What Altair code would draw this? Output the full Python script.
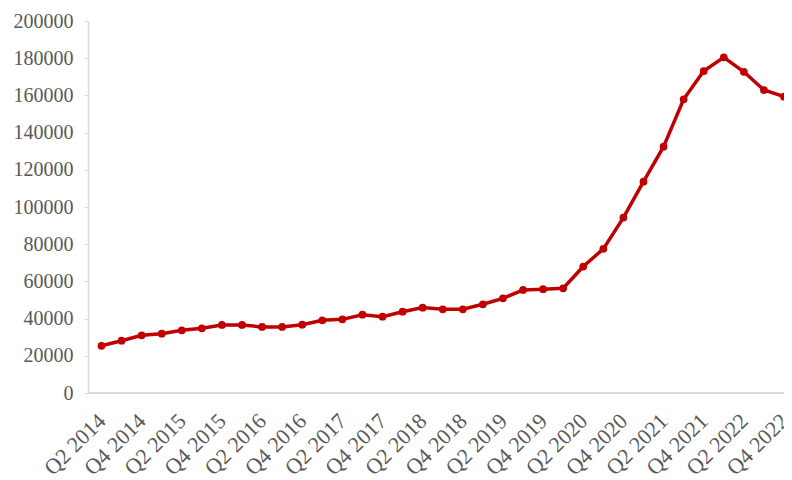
import altair as alt
import pandas as pd

quarters = [
    "Q2 2014", "Q3 2014", "Q4 2014",
    "Q1 2015", "Q2 2015", "Q3 2015", "Q4 2015",
    "Q1 2016", "Q2 2016", "Q3 2016", "Q4 2016",
    "Q1 2017", "Q2 2017", "Q3 2017", "Q4 2017",
    "Q1 2018", "Q2 2018", "Q3 2018", "Q4 2018",
    "Q1 2019", "Q2 2019", "Q3 2019", "Q4 2019",
    "Q1 2020", "Q2 2020", "Q3 2020", "Q4 2020",
    "Q1 2021", "Q2 2021", "Q3 2021", "Q4 2021",
    "Q1 2022", "Q2 2022", "Q3 2022", "Q4 2022",
]
values = [
    25400, 28100, 31000,
    31900, 33700, 34800, 36600,
    36600, 35500, 35500, 36700,
    39100, 39600, 42100, 41000,
    43700, 45900, 45000, 45000,
    47700, 50900, 55400, 55800,
    56300, 68000, 77500, 94300,
    113600, 132400, 157900, 173100,
    180500, 172700, 162900, 159300,
]
label_quarters = quarters[::2]
y_ticks = [0, 20000, 40000, 60000, 80000, 100000, 120000, 140000, 160000, 180000, 200000]

df = pd.DataFrame({"quarter": quarters, "value": values})

FONT = "Liberation Serif"
RED = "#C00000"
GRAY = "#595959"
LINE = "#d9d9d9"
W = 696
H = 372

x_enc = alt.X(
    "quarter:O",
    sort=quarters,
    scale=alt.Scale(type="point", range=[13.5, W], padding=0),
    axis=alt.Axis(
        values=label_quarters,
        title=None,
        labelAngle=-45,
        labelAlign="right",
        labelBaseline="middle",
        labelFont=FONT,
        labelFontSize=22,
        labelColor=GRAY,
        labelPadding=24,
        ticks=False,
        domain=False,
        grid=False,
        labelOverlap=False,
    ),
)
y_enc = alt.Y(
    "value:Q",
    scale=alt.Scale(domain=[0, 200000], nice=False),
    axis=alt.Axis(
        values=y_ticks,
        title=None,
        format="d",
        labelFont=FONT,
        labelFontSize=20,
        labelColor=GRAY,
        labelPadding=11,
        labelOverlap=False,
        tickSize=4,
        tickColor=LINE,
        domainColor=LINE,
        domainWidth=1.5,
        grid=False,
    ),
)

base = alt.Chart(df)
xline = base.mark_rule(color=LINE, strokeWidth=1.5).encode(
    y=alt.value(H),
    x=alt.value(0),
    x2=alt.value(W),
)
line = base.mark_line(color=RED, strokeWidth=3.5).encode(x=x_enc, y=y_enc)
pts = base.mark_circle(color=RED, size=60, opacity=1).encode(x=x_enc, y=y_enc)

chart = (
    alt.layer(line, pts, xline)
    .properties(
        width=W,
        height=H,
        background="white",
        autosize=alt.AutoSizeParams(type="none"),
        padding={"left": 80, "top": 13, "right": 0, "bottom": 87},
    )
    .configure_view(strokeWidth=0, stroke="transparent")
)

chart.save("out.html", embed_options={"renderer": "svg", "actions": False})
